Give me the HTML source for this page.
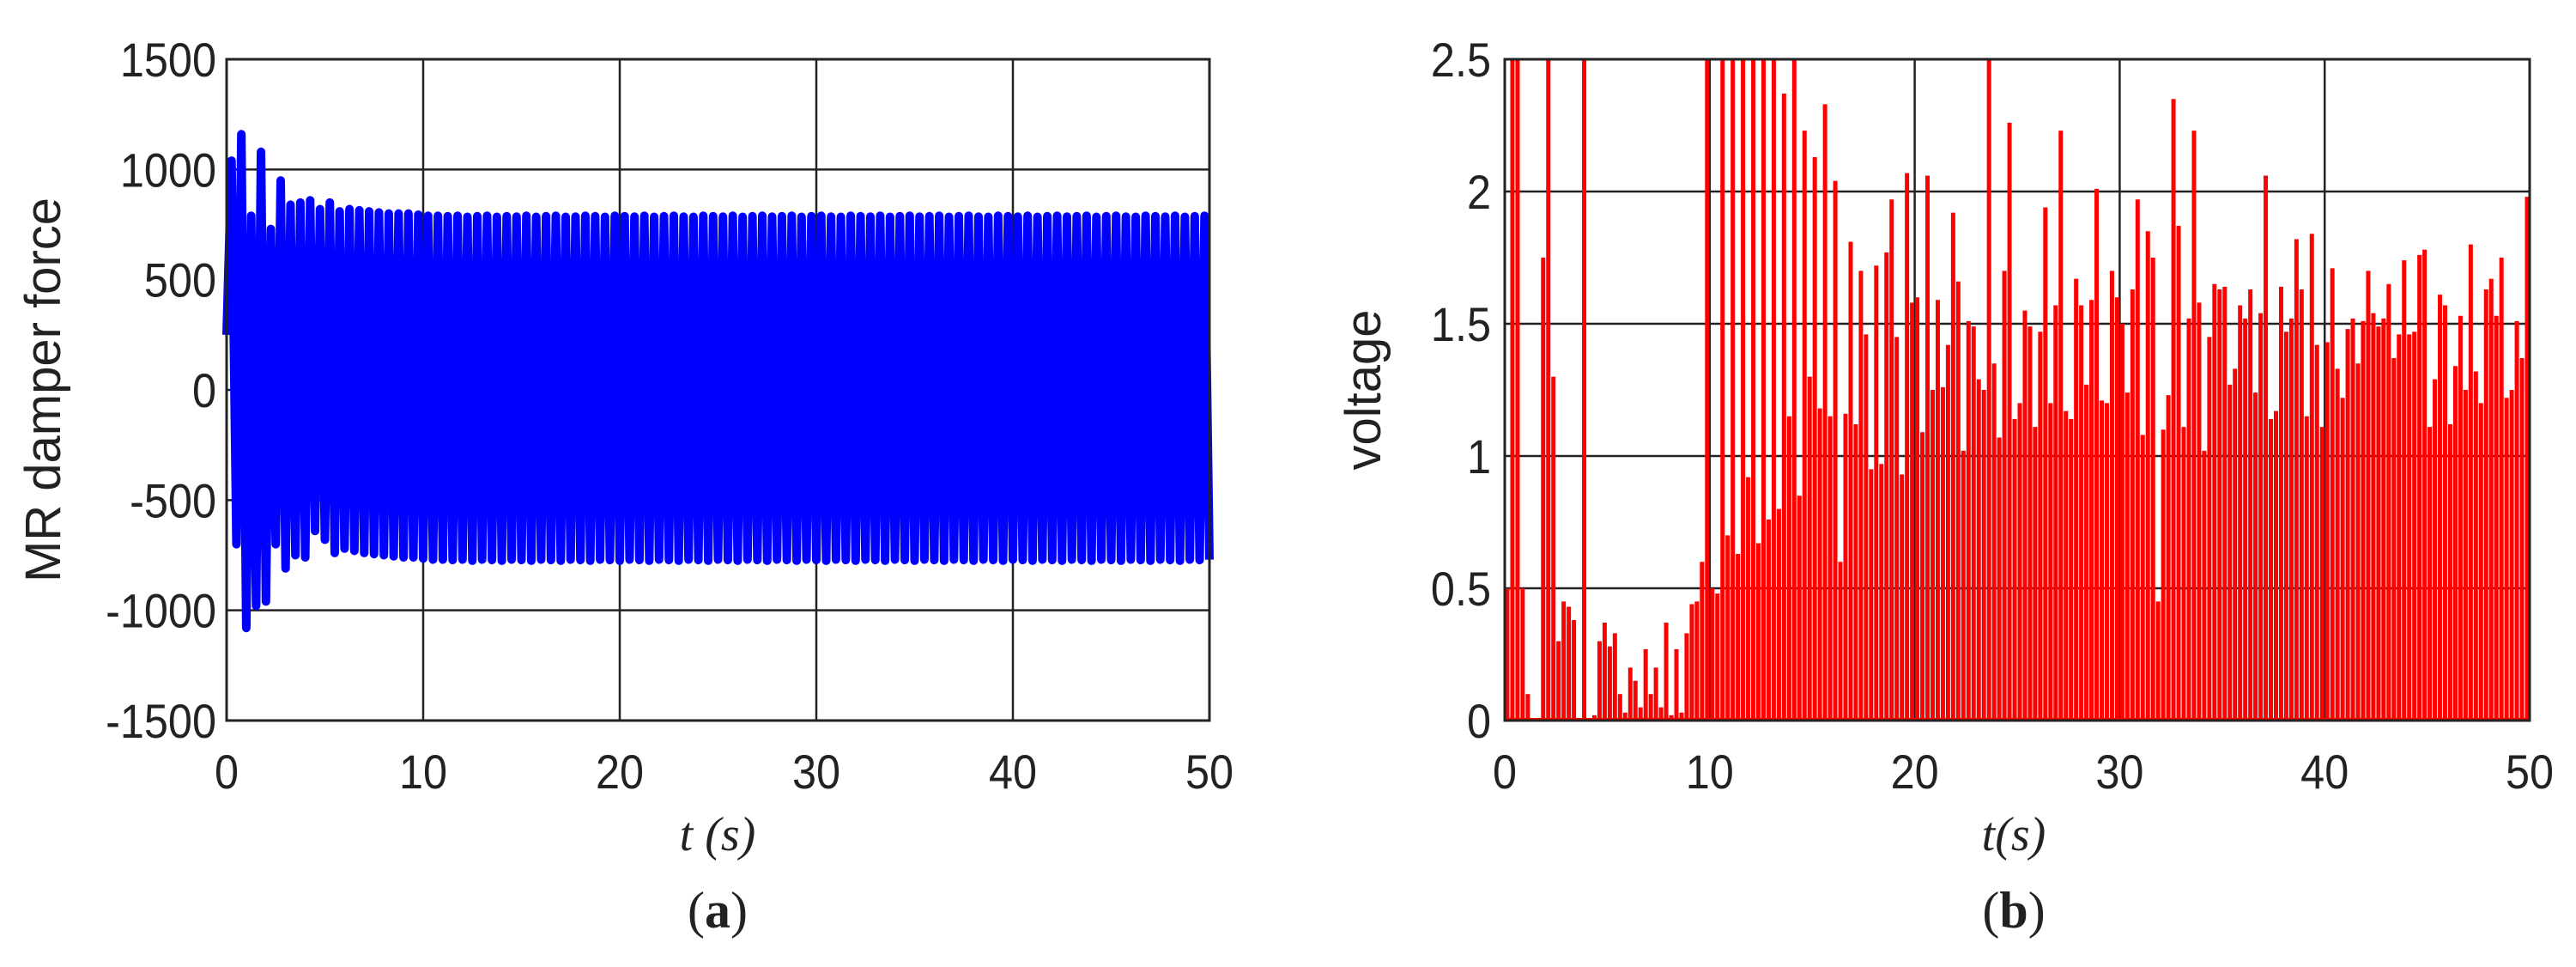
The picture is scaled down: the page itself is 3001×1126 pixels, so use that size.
<!DOCTYPE html>
<html><head><meta charset="utf-8"><style>
html,body{margin:0;padding:0;background:#fff;}
svg{display:block;}
text{font-family:"Liberation Sans",Arial,sans-serif;fill:#222;}
</style></head><body>
<svg id="fig" width="3001" height="1126" viewBox="0 0 3001 1126" xmlns="http://www.w3.org/2000/svg">
<g id="pa"></g>
<g id="pb"></g>
</svg>
<script>
const xTicks=[0,10,20,30,40,50];
const forceTicks=[-1500,-1000,-500,0,500,1000,1500];
const forceTickLabels=["-1500","-1000","-500","0","500","1000","1500"];
const voltTicks=[0,0.5,1,1.5,2,2.5];
const voltTickLabels=["0","0.5","1","1.5","2","2.5"];
const forcePeaks=[1040,1160,790,1080,730,950,840,850,860,820,850,810,820,815,810,805,800,800,800,795,
790,790,788,790,785,788,790,785,788,786,790,785,788,790,785,786,790,788,785,790,
788,786,790,785,788,790,786,785,790,788,786,790,785,788,790,786,788,790,785,788,
790,786,785,790,788,786,790,785,788,790,786,788,790,785,788,790,786,785,790,788,
786,790,785,788,790,786,788,790,785,788,790,786,785,790,788,786,790,785,788,790];
const forceTroughs=[-700,-1080,-980,-960,-700,-810,-750,-760,-640,-680,-740,-720,-730,-740,-745,-750,-755,-760,-760,-765,
-770,-770,-772,-770,-775,-770,-772,-775,-770,-772,-775,-770,-772,-775,-770,-772,-775,-770,-772,-775,
-770,-772,-775,-770,-772,-775,-770,-772,-775,-770,-772,-775,-770,-772,-775,-770,-772,-775,-770,-772,
-775,-770,-772,-775,-770,-772,-775,-770,-772,-775,-770,-772,-775,-770,-772,-775,-770,-772,-775,-770,
-772,-775,-770,-772,-775,-770,-772,-775,-770,-772,-775,-770,-772,-775,-770,-772,-775,-770,-772,-770];
const voltPeaks=[0.5,2.5,2.5,0.5,0.1,0,0,1.75,2.5,1.3,0.3,0.45,0.43,0.38,0,2.5,0,0.02,0.3,0.37,
0.28,0.33,0.1,0.03,0.2,0.15,0.05,0.27,0.1,0.2,0.05,0.37,0.02,0.27,0.03,0.33,0.44,0.45,0.6,2.5,
0.5,0.48,2.5,0.7,2.5,0.63,2.5,0.92,2.5,0.67,2.5,0.76,2.5,0.8,2.37,1.15,2.5,0.85,2.23,1.3,
2.13,1.18,2.33,1.15,2.04,0.6,1.16,1.81,1.12,1.7,1.46,0.95,1.72,0.97,1.77,1.97,1.45,0.93,2.07,1.58,
1.6,1.09,2.06,1.25,1.59,1.26,1.42,1.92,1.66,1.02,1.51,1.49,1.29,1.25,2.5,1.35,1.07,1.7,2.26,1.14,
1.2,1.55,1.49,1.11,1.47,1.94,1.2,1.57,2.23,1.17,1.14,1.67,1.57,1.27,1.59,2.01,1.21,1.2,1.7,1.6,
1.5,1.24,1.63,1.97,1.08,1.85,1.75,0.45,1.1,1.23,2.35,1.87,1.11,1.52,2.23,1.58,1.02,1.45,1.65,1.63,
1.64,1.27,1.33,1.57,1.52,1.63,1.24,1.54,2.06,1.14,1.17,1.64,1.47,1.52,1.82,1.63,1.15,1.84,1.42,1.11,
1.43,1.71,1.33,1.22,1.48,1.52,1.35,1.51,1.7,1.54,1.49,1.52,1.65,1.37,1.46,1.74,1.46,1.47,1.76,1.78,
1.11,1.29,1.61,1.57,1.12,1.34,1.53,1.25,1.8,1.32,1.2,1.63,1.67,1.53,1.75,1.22,1.25,1.51,1.37,1.98];

const NS="http://www.w3.org/2000/svg";
function mk(parent,tag,attrs,txt){const e=document.createElementNS(NS,tag);for(const k in attrs)e.setAttribute(k,attrs[k]);if(txt!==undefined)e.textContent=txt;parent.appendChild(e);return e;}

function axes(g,L,R,T,B,ymin,ymax,yt,ytl,ylab,xlab,plab,labX,yTickX){
  const sx=v=>L+(v-0)/(50-0)*(R-L);
  const sy=v=>B-(v-ymin)/(ymax-ymin)*(B-T);
  const grid=mk(g,'g',{});
  
  
  xTicks.forEach(t=>{mk(grid,'line',{x1:sx(t),x2:sx(t),y1:T,y2:B,stroke:'#222','stroke-width':2.5});});
  yt.forEach(t=>{mk(grid,'line',{x1:L,x2:R,y1:sy(t),y2:sy(t),stroke:'#222','stroke-width':2.5});});
  const xl=mk(g,'g',{});
  
  
  xTicks.forEach(t=>{mk(xl,'text',{x:sx(t),y:918,'text-anchor':'middle','font-size':56,transform:`translate(${sx(t)},0) scale(0.9,1) translate(${-sx(t)},0)`},String(t));});
  const yl=mk(g,'g',{});
  
  
  yt.forEach((t,i)=>{mk(yl,'text',{x:yTickX,y:sy(t)+20,'text-anchor':'end','font-size':56,transform:`translate(${yTickX},0) scale(0.9,1) translate(${-yTickX},0)`},ytl[i]);});
  const yTitle=mk(g,'text',{x:0,y:0,'text-anchor':'middle','font-size':58,transform:`translate(${ylab[1]},${(T+B)/2}) rotate(-90)`},ylab[0]);
  
  
  const xTitle=mk(g,'text',{x:labX,y:990,'text-anchor':'middle','font-size':56,'font-style':'italic',style:'font-family:"Liberation Serif",serif'},xlab);
  
  
  const pl=mk(g,'text',{x:labX,y:1080,'text-anchor':'middle','font-size':60,style:'font-family:"Liberation Serif",serif'});
  
  
  mk(pl,'tspan',{},'(');mk(pl,'tspan',{'font-weight':'bold'},plab);mk(pl,'tspan',{},')');
  return {sx,sy};
}

// Panel a
(function(){
  const g=document.getElementById('pa');
  const L=264,R=1409,T=69,B=839;
  const {sx,sy}=axes(g,L,R,T,B,-1500,1500,forceTicks,forceTickLabels,['MR damper force',70],'t (s)','a',836,252);
  let pts=[[sx(0),sy(250)]];
  for(let i=0;i<forcePeaks.length;i++){
    pts.push([sx(i*0.5+0.25),sy(forcePeaks[i])]);
    pts.push([sx(i*0.5+0.5),sy(forceTroughs[i])]);
  }
  const line=mk(g,'polyline',{points:pts.map(p=>p.join(',')).join(' '),fill:'none',stroke:'#0000ff','stroke-width':10,'stroke-linejoin':'round'});
  
  
  const box=mk(g,'rect',{x:L,y:T,width:R-L,height:B-T,fill:'none',stroke:'#222','stroke-width':3});
  
  
})();

// Panel b
(function(){
  const g=document.getElementById('pb');
  const L=1753,R=2947,T=69,B=839;
  const {sx,sy}=axes(g,L,R,T,B,0,2.5,voltTicks,voltTickLabels,['voltage',1608],'t(s)','b',2346,1737);
  const sg=mk(g,'g',{});
  
  
  voltPeaks.forEach((v,i)=>{
    const x=sx(i*0.25+0.125);
    const s=mk(sg,'line',{x1:x,x2:x,y1:sy(0),y2:sy(v),stroke:'#ff0000','stroke-width':5});
    
    
  });
  mk(sg,'line',{x1:L,x2:R,y1:B-1,y2:B-1,stroke:'#ff0000','stroke-width':4});
  const box=mk(g,'rect',{x:L,y:T,width:R-L,height:B-T,fill:'none',stroke:'#222','stroke-width':3});
  
  
})();
</script>
</body></html>
